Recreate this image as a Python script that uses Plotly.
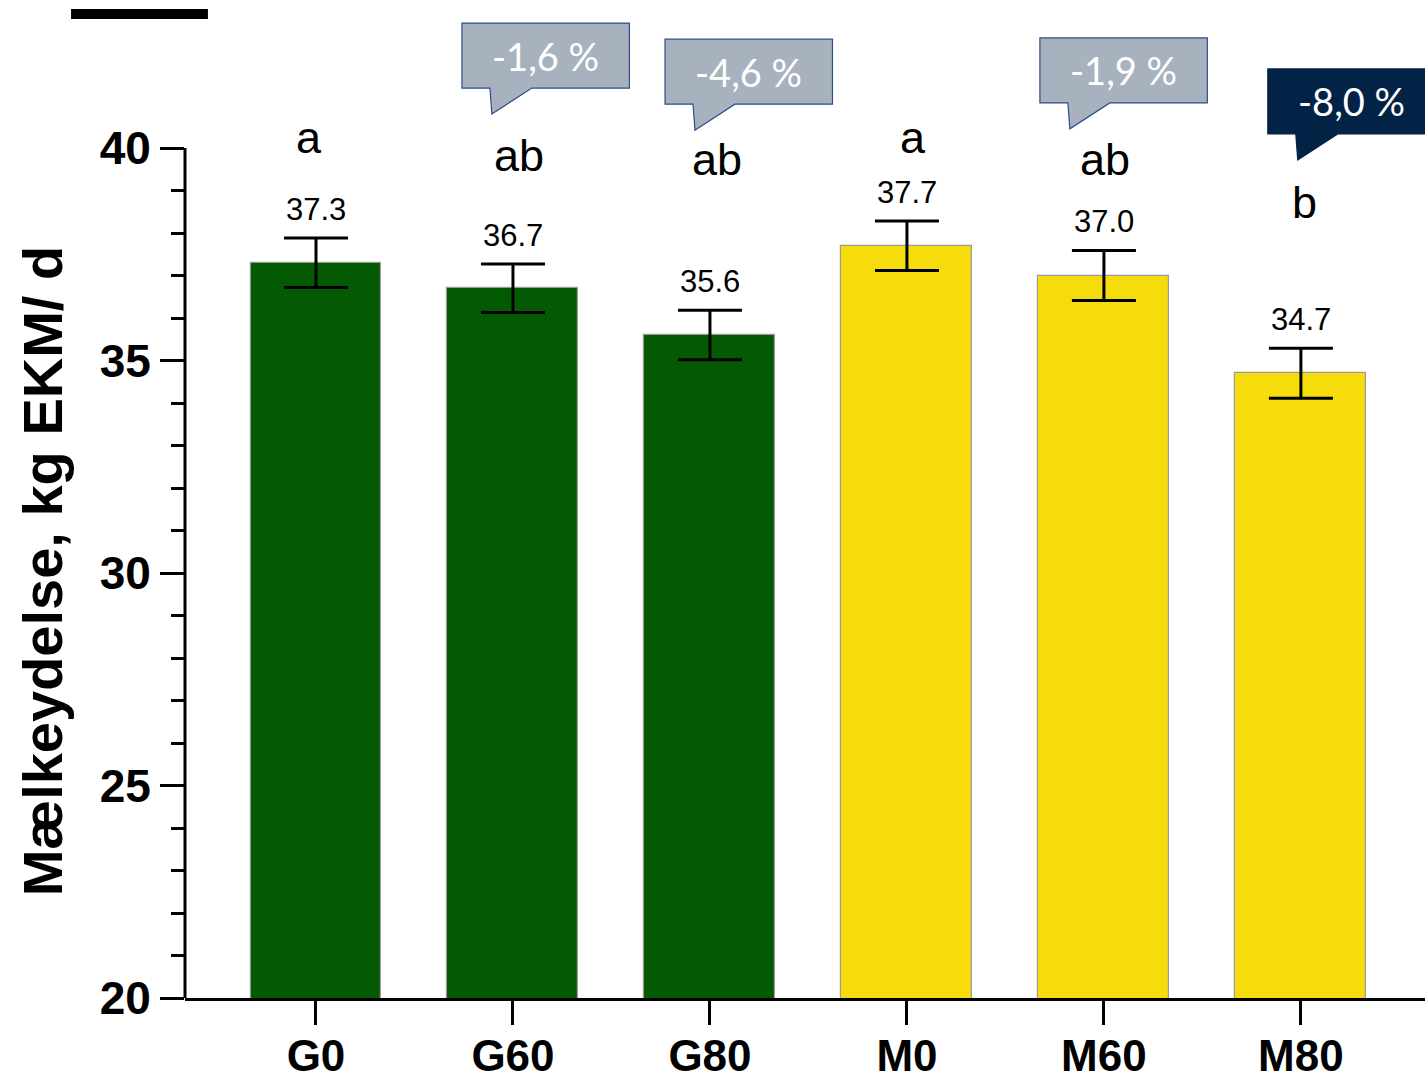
import plotly.graph_objects as go

# ---- data ----
categories = ["G0", "G60", "G80", "M0", "M60", "M80"]
milk_yield = [37.3, 36.7, 35.6, 37.7, 37.0, 34.7]
sem = [0.58, 0.57, 0.58, 0.58, 0.59, 0.59]
value_labels = ["37.3", "36.7", "35.6", "37.7", "37.0", "34.7"]
sig_letters = ["a", "ab", "ab", "a", "ab", "b"]
change_idx = [1, 2, 4, 5]
change_labels = ["-1,6 %", "-4,6 %", "-1,9 %", "-8,0 %"]
y_ticks = [20, 25, 30, 35, 40]
y_tick_labels = ["20", "25", "30", "35", "40"]
y_minor = [v for v in range(21, 40) if v % 5 != 0]

# ---- styling / layout positions ----
GREEN = "#035A03"
YELLOW = "#F5DC0A"
bar_colors = [GREEN, GREEN, GREEN, YELLOW, YELLOW, YELLOW]
sig_y = [40.24, 39.82, 39.74, 40.24, 39.74, 38.71]
sig_xshift = [-7, 6, 7, 6, 1, 4]
callout_left = [-0.259, -0.228, -0.325, -0.168]
callout_top = [42.94, 42.56, 42.59, 41.86]
callout_fill = ["#A7B2BE", "#A7B2BE", "#A7B2BE", "#022346"]
callout_line = ["#2F4B8C", "#2F4B8C", "#2F4B8C", "#022346"]
BOX_W = 0.85
BOX_H = 1.53

x = list(range(len(categories)))

fig = go.Figure()
fig.add_trace(go.Bar(
    x=x, y=milk_yield, width=0.665,
    marker=dict(color=bar_colors, line=dict(color="#9A9A9A", width=1.2)),
    error_y=dict(type="data", array=sem, visible=True, color="black",
                 thickness=3, width=32),
    showlegend=False,
))

annotations = []
# value labels
for i, (v, e, lab) in enumerate(zip(milk_yield, sem, value_labels)):
    annotations.append(dict(x=i, y=v + e, text=lab, showarrow=False,
                            xref="x", yref="y", yanchor="bottom", yshift=9,
                            font=dict(family="Arial, Liberation Sans", size=31, color="black")))
# significance letters
for i, (s, sy, xs) in enumerate(zip(sig_letters, sig_y, sig_xshift)):
    annotations.append(dict(x=i, y=sy, text=s, showarrow=False, xref="x", yref="y",
                            xshift=xs,
                            font=dict(family="Arial, Liberation Sans", size=45, color="black")))

shapes = []
# callouts
for k, (ci, lab) in enumerate(zip(change_idx, change_labels)):
    L = ci + callout_left[k]
    R = L + BOX_W
    T = callout_top[k]
    B = T - BOX_H
    path = (f"M {L},{T} L {R},{T} L {R},{B} L {L+0.355},{B} "
            f"L {L+0.152},{B-0.61} L {L+0.142},{B} L {L},{B} Z")
    shapes.append(dict(type="path", path=path, xref="x", yref="y",
                       fillcolor=callout_fill[k], line=dict(color=callout_line[k], width=1.2),
                       layer="above"))
    annotations.append(dict(x=(L + R) / 2, y=(T + B) / 2, text=lab, showarrow=False,
                            xref="x", yref="y",
                            font=dict(family="Lato, Open Sans", size=38, color="white")))

# y-axis line (only up to 40)
shapes.append(dict(type="line", xref="paper", yref="y", x0=0, x1=0, y0=20, y1=40,
                   line=dict(color="black", width=3)))
# black bar top-left
shapes.append(dict(type="rect", xref="paper", yref="paper",
                   x0=-0.0919, x1=0.0185, y0=0.981, y1=0.991,
                   fillcolor="black", line=dict(width=0)))

# y axis title
annotations.append(dict(x=-0.115, y=30.05, xref="paper", yref="y",
                        xanchor="center", yanchor="middle",
                        text="<b>Mælkeydelse, kg EKM/ d</b>", textangle=-90, showarrow=False,
                        font=dict(family="Arial, Liberation Sans", size=56, color="black")))

fig.update_layout(
    width=1425, height=1079,
    margin=dict(l=185, r=0, t=0, b=81),
    paper_bgcolor="white", plot_bgcolor="white",
    bargap=0,
    shapes=shapes, annotations=annotations,
    xaxis=dict(range=[-0.665, 5.63], tickmode="array", tickvals=x,
               ticktext=[f"<b>{c}</b>" for c in categories],
               showline=True, linecolor="black", linewidth=3,
               ticks="outside", ticklen=24, tickwidth=3, tickcolor="black",
               tickfont=dict(family="Arial, Liberation Sans", size=44, color="black"),
               ticklabelstandoff=-7, automargin=False,
               showgrid=False, zeroline=False, fixedrange=True),
    yaxis=dict(range=[20, 20 + 998 / 42.5], tickmode="array", tickvals=y_ticks,
               ticktext=[f"<b>{t}</b>" for t in y_tick_labels],
               showline=False, ticks="outside", ticklen=24, tickwidth=3, tickcolor="black",
               minor=dict(tickmode="array", tickvals=y_minor, ticks="outside", ticklen=13,
                          tickwidth=3, tickcolor="black", showgrid=False),
               tickfont=dict(family="Arial, Liberation Sans", size=46, color="black"),
               ticklabelstandoff=0, automargin=False,
               showgrid=False, zeroline=False, fixedrange=True),
)

fig.write_html("out.html")
